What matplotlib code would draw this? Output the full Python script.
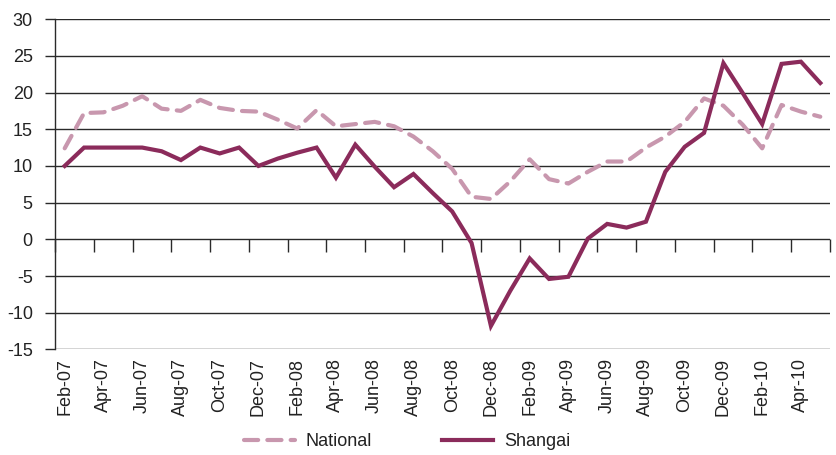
import numpy as np
import matplotlib
matplotlib.use("Agg")
import matplotlib.pyplot as plt

plt.rcParams["font.family"] = ["Liberation Sans Narrow", "Liberation Sans", "DejaVu Sans"]
plt.rcParams["axes.unicode_minus"] = False

months = [
    "Feb-07", "Mar-07", "Apr-07", "May-07", "Jun-07", "Jul-07", "Aug-07", "Sep-07",
    "Oct-07", "Nov-07", "Dec-07", "Jan-08", "Feb-08", "Mar-08", "Apr-08", "May-08",
    "Jun-08", "Jul-08", "Aug-08", "Sep-08", "Oct-08", "Nov-08", "Dec-08", "Jan-09",
    "Feb-09", "Mar-09", "Apr-09", "May-09", "Jun-09", "Jul-09", "Aug-09", "Sep-09",
    "Oct-09", "Nov-09", "Dec-09", "Jan-10", "Feb-10", "Mar-10", "Apr-10", "May-10",
]
national = [
    12.4, 17.2, 17.3, 18.2, 19.5, 17.8, 17.5, 19.0, 17.9, 17.5, 17.4, 16.3,
    15.1, 17.6, 15.4, 15.7, 16.0, 15.4, 14.0, 12.0, 9.6, 5.8, 5.5, 7.9,
    10.9, 8.2, 7.6, 9.2, 10.6, 10.6, 12.5, 14.0, 16.0, 19.2, 18.2, 15.6,
    12.4, 18.3, 17.4, 16.7,
]
shangai = [
    10.0, 12.5, 12.5, 12.5, 12.5, 12.0, 10.8, 12.5, 11.7, 12.5, 10.0, 11.0,
    11.8, 12.5, 8.4, 12.9, 9.9, 7.1, 8.9, 6.3, 3.8, -0.5, -11.8, -7.0,
    -2.6, -5.4, -5.1, 0.1, 2.1, 1.6, 2.4, 9.2, 12.6, 14.5, 24.0, 19.9,
    15.7, 23.9, 24.2, 21.3,
]

x = np.arange(len(months))
text_color = "#222222"

fig = plt.figure(figsize=(8.36, 4.55), dpi=100)
ax = fig.add_axes([0.0658, 0.232, 0.927, 0.726])

for v in range(-15, 31, 5):
    ax.axhline(v, color="#2a2a2a", linewidth=1.0, zorder=1)

ax.plot(x, national, color="#C897AE", linewidth=3.0, dashes=(3.4, 2.2),
        dash_capstyle="round", solid_joinstyle="round", label="National", zorder=3)
ax.plot(x, shangai, color="#8B2B5B", linewidth=3.0, solid_joinstyle="miter",
        label="Shangai", zorder=4)

ax.set_xlim(-0.5, len(months) - 0.5)
ax.set_ylim(-15, 30)
ax.set_yticks(range(-15, 31, 5))
ax.tick_params(axis="y", length=7, width=1.0, color="#2a2a2a", pad=9,
               labelsize=13, labelcolor=text_color)

ax.set_xticks(x[::2])
ax.set_xticklabels(months[::2], rotation=90)
ax.tick_params(axis="x", length=0, pad=6, labelsize=13, labelcolor=text_color)

for side in ["top", "right", "bottom"]:
    ax.spines[side].set_visible(False)
ax.spines["left"].set_color("#2a2a2a")
ax.spines["left"].set_linewidth(1.0)

# zero axis carrying the category tick marks
zero_axis = ax.secondary_xaxis(15 / 45)
zero_axis.set_xticks(np.arange(-0.5, len(months), 2))
zero_axis.tick_params(axis="x", direction="out", length=9, width=1.0,
                      color="#2a2a2a", labelbottom=False, labeltop=False)
zero_axis.spines["bottom"].set_visible(False)
zero_axis.spines["top"].set_visible(False)
zero_axis.xaxis.set_ticks_position("bottom")
zero_axis.set_xticklabels([])

fig.legend(loc="lower center", bbox_to_anchor=(0.487, -0.025), ncol=2, frameon=False,
           fontsize=13, handlelength=2.8, handletextpad=0.6, columnspacing=3.9,
           labelcolor=text_color)

fig.savefig("out.png", dpi=100)
